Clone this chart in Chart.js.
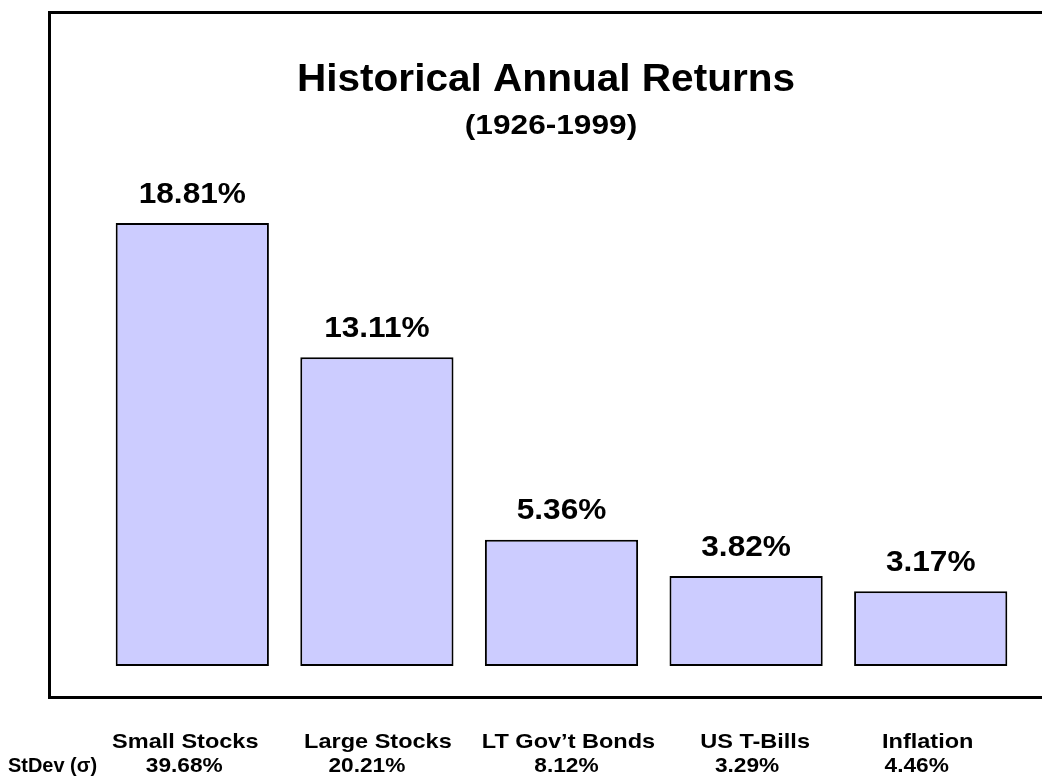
<!DOCTYPE html>
<html lang="en">
<head>
    <meta charset="UTF-8">
    <title>Historical Annual Returns</title>
    <script src="https://cdn.jsdelivr.net/npm/chart.js"></script>
    <style>
        body { margin: 0; background: #fff; }
        canvas { display: block; }
    </style>
</head>
<body>
    <canvas id="myChart" width="1042" height="780"></canvas>
    <script>
        // dados do grafico
        const categorias = ['Small Stocks', 'Large Stocks', "LT Gov\u2019t Bonds", 'US T-Bills', 'Inflation'];
        const retornos = [18.81, 13.11, 5.36, 3.82, 3.17];
        const desvios = [39.68, 20.21, 8.12, 3.29, 4.46];
        const titulo = 'Historical Annual Returns';
        const subtitulo = '(1926-1999)';

        const fonte = '"Liberation Sans", Arial, sans-serif';
        // pequenos deslocamentos dos rotulos de baixo (como no original)
        const ajusteRotulo = [-7, 1, 7, 9, -3];
        const ajusteDesvio = [-8, -10, 5, 1, -14];

        // texto levemente alargado na horizontal
        function texto(ctx, t, x, y, esticar, alinhar) {
            ctx.save();
            ctx.translate(x, y);
            ctx.scale(esticar, 1);
            ctx.textAlign = alinhar || 'center';
            ctx.fillText(t, 0, 0);
            ctx.restore();
        }

        const moldura = {
            id: 'moldura',
            beforeDraw(chart) {
                const ctx = chart.ctx;
                ctx.save();
                ctx.fillStyle = '#fff';
                ctx.fillRect(0, 0, chart.width, chart.height);
                ctx.strokeStyle = '#000';
                ctx.lineWidth = 3;
                ctx.beginPath();
                ctx.moveTo(1050, 12.5);
                ctx.lineTo(49.5, 12.5);
                ctx.lineTo(49.5, 697.5);
                ctx.lineTo(1050, 697.5);
                ctx.stroke();
                ctx.restore();
            },
            afterDatasetsDraw(chart) {
                const ctx = chart.ctx;
                const meta = chart.getDatasetMeta(0);
                ctx.save();
                ctx.fillStyle = '#000';
                ctx.font = 'bold 29px ' + fonte;
                ctx.textBaseline = 'bottom';
                meta.data.forEach(function (bar, i) {
                    texto(ctx, retornos[i].toFixed(2) + '%', bar.x, bar.y - 14, 1.09);
                });
                ctx.restore();
            },
            afterDraw(chart) {
                const ctx = chart.ctx;
                const x = chart.scales.x;
                ctx.save();
                ctx.fillStyle = '#000';
                ctx.textBaseline = 'middle';

                ctx.font = 'bold 39px ' + fonte;
                texto(ctx, titulo, 546, 80, 1.04);
                ctx.font = 'bold 28px ' + fonte;
                texto(ctx, subtitulo, 551, 126, 1.13);

                ctx.font = 'bold 21px ' + fonte;
                for (let i = 0; i < categorias.length; i++) {
                    const cx = x.getPixelForValue(i);
                    texto(ctx, categorias[i], cx + ajusteRotulo[i], 742, 1.12);
                    texto(ctx, desvios[i].toFixed(2) + '%', cx + ajusteDesvio[i], 766, 1.08);
                }
                texto(ctx, 'StDev (\u03c3)', 8, 766, 0.95, 'left');
                ctx.restore();
            }
        };

        const config = {
            type: 'bar',
            data: {
                labels: categorias,
                datasets: [{
                    data: retornos,
                    backgroundColor: '#ccccff',
                    borderColor: '#000',
                    borderWidth: 2,
                    borderSkipped: false,
                    barPercentage: 0.83,
                    categoryPercentage: 1
                }]
            },
            options: {
                responsive: false,
                animation: false,
                layout: {
                    padding: { left: 100, right: 19, top: 195, bottom: 114 }
                },
                plugins: {
                    legend: { display: false },
                    tooltip: { enabled: false }
                },
                scales: {
                    x: { display: false },
                    y: { display: false, min: 0, max: 20 }
                }
            },
            plugins: [moldura]
        };

        const myChart = new Chart(document.getElementById('myChart'), config);
    </script>
</body>
</html>
